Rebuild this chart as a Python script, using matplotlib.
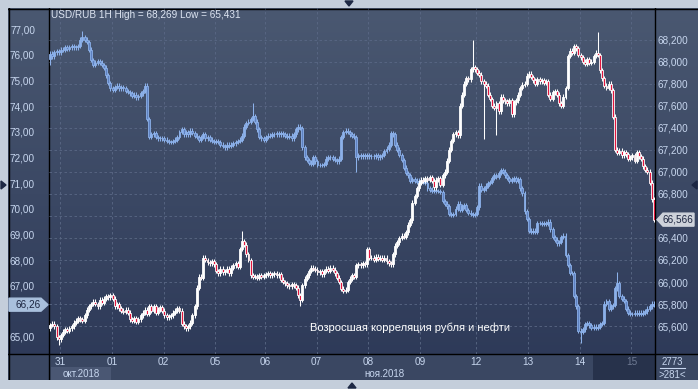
import numpy as np
import matplotlib
matplotlib.use("Agg")
import matplotlib.pyplot as plt
from matplotlib.patches import Rectangle, Polygon
from matplotlib.colors import LinearSegmentedColormap

W, H = 698, 389
plt.rcParams["font.family"] = ["Liberation Sans", "DejaVu Sans"]

# hourly closes, Brent (left scale)
oil_close = [
    76.05, 75.95, 76.1, 76.15, 76.1, 76.2, 76.2, 76.3, 76.25, 76.3, 76.35, 76.3,
    76.3, 76.35, 76.6, 76.7, 76.6, 76.5, 76.2, 75.8, 75.6, 75.7, 75.75, 75.7,
    75.6, 75.5, 75.2, 74.9, 74.7, 74.65, 74.75, 74.8, 74.7, 74.75, 74.7, 74.6,
    74.55, 74.5, 74.4, 74.45, 74.35, 74.4, 74.5, 74.6, 74.8, 73.5, 72.8, 72.9,
    72.95, 72.8, 72.75, 72.75, 72.75, 72.7, 72.65, 72.6, 72.6, 72.65, 72.7, 72.8,
    73.0, 73.1, 72.9, 73.0, 72.9, 73.05, 72.95, 72.85, 72.8, 72.7, 72.8, 72.9,
    72.75, 72.8, 72.7, 72.65, 72.6, 72.65, 72.6, 72.5, 72.45, 72.4, 72.5, 72.45,
    72.5, 72.55, 72.6, 72.65, 72.7, 72.85, 73.2, 73.35, 73.4, 73.5, 73.6, 73.4,
    73.1, 72.8, 72.75, 72.7, 72.8, 72.85, 72.85, 72.9, 72.9, 72.95, 72.9, 72.95,
    72.9, 72.85, 72.8, 72.85, 72.75, 72.9, 73.1, 73.2, 73.15, 72.4, 72.0, 71.9,
    71.8, 71.75, 72.0, 71.85, 71.7, 71.7, 71.7, 71.75, 71.95, 72.0, 72.0, 71.95,
    71.9, 71.85, 71.95, 72.8, 73.0, 73.05, 73.0, 72.9, 72.85, 72.8, 72.0, 72.1,
    72.05, 72.1, 72.05, 72.1, 72.05, 72.05, 72.05, 72.1, 72.0, 72.05, 72.1, 72.25,
    72.35, 72.5, 72.95, 72.9, 72.5, 72.3, 72.1, 71.9, 71.6, 71.4, 71.3, 71.1,
    71.15, 71.1, 71.05, 71.1, 71.05, 71.1, 71.0, 70.8, 70.75, 70.7, 70.75, 70.7,
    70.7, 70.65, 70.3, 70.2, 70.1, 69.8, 69.75, 69.8, 70.0, 70.2, 69.95, 70.1,
    70.15, 69.95, 69.85, 69.8, 69.75, 69.8, 70.05, 70.9, 70.75, 70.8, 70.9, 71.0,
    71.05, 71.2, 71.3, 71.25, 71.4, 71.5, 71.45, 71.3, 71.2, 71.1, 71.15, 71.2,
    71.1, 71.15, 70.8, 70.6, 69.9, 69.6, 69.15, 69.1, 69.15, 69.1, 69.45, 69.45,
    69.4, 69.45, 69.4, 69.5, 69.2, 68.9, 68.8, 68.65, 68.7, 68.9, 68.95, 68.2,
    67.8, 67.5, 67.5, 66.6, 66.2, 65.25, 65.2, 65.3, 65.5, 65.55, 65.45, 65.35,
    65.4, 65.35, 65.4, 65.5, 65.55, 66.3, 66.4, 66.1, 66.2, 66.25, 66.9, 67.1,
    66.6, 66.5, 66.4, 66.1, 65.95, 65.9, 65.9, 65.95, 65.9, 65.95, 65.9, 65.95,
    66.0, 66.1, 66.2, 66.3, 66.26,
]

# hourly closes, USD/RUB (right scale)
usd_close = [
    65.61, 65.62, 65.6, 65.5, 65.48, 65.52, 65.55, 65.57, 65.56, 65.58, 65.6, 65.63,
    65.65, 65.67, 65.66, 65.65, 65.7, 65.75, 65.78, 65.8, 65.82, 65.8, 65.78, 65.84,
    65.81, 65.85, 65.87, 65.86, 65.88, 65.85, 65.78, 65.8, 65.76, 65.74, 65.73, 65.75,
    65.72, 65.66, 65.65, 65.67, 65.64, 65.66, 65.7, 65.72, 65.75, 65.71, 65.78, 65.74,
    65.78, 65.72, 65.75, 65.77, 65.74, 65.7, 65.68, 65.69, 65.7, 65.72, 65.74, 65.76,
    65.74, 65.62, 65.6, 65.58, 65.6, 65.63, 65.7, 65.78, 65.95, 66.05, 66.04, 66.22,
    66.2, 66.18, 66.17, 66.19, 66.16, 66.1, 66.08, 66.12, 66.09, 66.1, 66.12, 66.08,
    66.13, 66.15, 66.17, 66.14, 66.3, 66.37, 66.34, 66.25, 66.2, 66.06, 66.05, 66.05,
    66.04, 66.06, 66.05, 66.06, 66.07, 66.08, 66.06, 66.07, 66.08, 66.06, 66.07, 66.02,
    66.0, 65.99, 65.97, 65.96, 65.98, 65.97, 65.95, 65.88, 65.84, 65.97, 66.03, 66.06,
    66.1, 66.13, 66.12, 66.11, 66.09, 66.1, 66.07, 66.1, 66.12, 66.1, 66.13, 66.11,
    66.08, 66.04, 66.0, 65.94, 65.92, 65.93, 66.0, 66.03, 66.06, 66.05, 66.15, 66.16,
    66.15, 66.17, 66.16, 66.3, 66.22, 66.22, 66.2, 66.23, 66.21, 66.22, 66.2, 66.22,
    66.19, 66.17, 66.16, 66.25, 66.33, 66.36, 66.4, 66.42, 66.41, 66.45, 66.52, 66.56,
    66.72, 66.78, 66.85, 66.9, 66.93, 66.92, 66.94, 66.93, 66.95, 66.92, 66.86, 66.93,
    66.94, 66.88, 66.97, 67.0, 67.1, 67.2, 67.28, 67.34, 67.36, 67.33, 67.6, 67.7,
    67.8, 67.85, 67.84, 67.93, 67.95, 67.93, 67.9, 67.88, 67.82, 67.8, 67.78, 67.7,
    67.66, 67.6, 67.58, 67.62, 67.55, 67.68, 67.65, 67.64, 67.62, 67.65, 67.52, 67.63,
    67.65, 67.7, 67.76, 67.79, 67.8, 67.87, 67.89, 67.86, 67.83, 67.8, 67.84, 67.82,
    67.83, 67.81, 67.82, 67.7, 67.66, 67.72, 67.73, 67.7, 67.62, 67.6, 67.68, 67.76,
    68.05, 68.1, 68.08, 68.14, 68.12, 68.06, 68.04, 68.0, 67.98, 68.02, 67.99, 68.0,
    68.05, 68.08, 68.06, 67.92, 67.85, 67.78, 67.76, 67.8, 67.74, 67.5, 67.2, 67.17,
    67.19, 67.15, 67.18, 67.16, 67.12, 67.13, 67.15, 67.1, 67.18, 67.14, 67.12, 67.05,
    67.02, 67.0, 66.9, 66.75, 66.566,
]

oil_open0 = 75.85
usd_open0 = 65.58

# long wicks
oil_spike_idx = [0, 15, 94, 142, 246, 263]
oil_spike_val = [75.6, 76.92, 74.12, 71.45, 64.75, 67.55]
usd_spike_idx = [4, 89, 116, 196, 201, 207, 254]
usd_spike_val = [65.431, 66.46, 65.78, 68.2, 67.3, 67.33, 68.269]

day_start = [5, 29, 53, 77, 100, 124, 148, 172, 198, 222, 246, 270]
day_labels = ["31", "01", "02", "05", "06", "07", "08", "09", "12", "13", "14", "15"]
month_labels = ["окт.2018", "ноя.2018"]
oil_ticks = [65, 66, 67, 68, 69, 70, 71, 72, 73, 74, 75, 76, 77]
usd_ticks = [65.6, 65.8, 66.0, 66.2, 66.4, 66.6, 66.8, 67.0, 67.2, 67.4, 67.6, 67.8, 68.0, 68.2]

title = "USD/RUB 1H High = 68,269 Low = 65,431"
note = "Возросшая корреляция рубля и нефти"

OIL_LIM = (64.336, 77.83)
USD_LIM = (65.347, 68.486)
TXT = "#c7d6ee"


def ohlc(close, open0, pad, sp_idx, sp_val):
    c = np.array(close)
    o = np.concatenate([[open0], c[:-1]])
    hi = np.maximum(o, c) + pad
    lo = np.minimum(o, c) - pad
    for i, v in zip(sp_idx, sp_val):
        if v > hi[i]:
            hi[i] = v
        elif v < lo[i]:
            lo[i] = v
    return o, hi, lo, c


def candles(ax, close, open0, pad, sp_idx, sp_val, edge, up_face, down_face, z):
    o, hi, lo, c = ohlc(close, open0, pad, sp_idx, sp_val)
    x = np.arange(len(c))
    ax.vlines(x, lo, hi, color=edge, lw=0.75, zorder=z)
    body = np.maximum(np.abs(c - o), 1e-4)
    faces = [up_face if cc >= oo else down_face for oo, cc in zip(o, c)]
    ax.bar(x, body, bottom=np.minimum(o, c), width=0.9, color=faces,
           edgecolor=edge, linewidth=0.6, zorder=z + 0.1)


fig = plt.figure(figsize=(W / 100, H / 100), dpi=100)
fig.patch.set_facecolor("#c4cedb")

# background panel in pixel coordinates
bg = fig.add_axes([8 / W, 1 - 380 / H, 690 / W, 372 / H])
bg.set_zorder(-2)
bg.set_xlim(8, 698)
bg.set_ylim(380, 8)
bg.axis("off")
cmap = LinearSegmentedColormap.from_list("panel", ["#4a5871", "#2c3857"])
bg.imshow(np.linspace(0, 1, 256).reshape(-1, 1), aspect="auto", cmap=cmap,
          extent=[8, 698, 380, 8], interpolation="bilinear")
bg.add_patch(Rectangle((8, 354), 690, 26, color="#3a4762", lw=0))
bg.add_patch(Rectangle((593, 354), 62, 26, color="#27324b", lw=0))
bg.add_patch(Rectangle((51, 367), 60, 13, color="#4a5773", lw=0))
for xs, ys in [([8, 698], [8.5, 8.5]), ([8, 698], [354, 354]),
               ([49, 49], [8, 380]), ([655, 655], [8, 380]), ([8.5, 8.5], [8, 380])]:
    bg.plot(xs, ys, color="black", lw=1.0)
bg.plot([660, 685], [368, 368], color=TXT, lw=0.8)

ax = fig.add_axes([49 / W, 1 - 354 / H, 606 / W, 346 / H])
ax.patch.set_visible(False)
axr = ax.twinx()
n = len(oil_close)
ax.set_xlim(-0.5, n - 0.5)
ax.set_ylim(*OIL_LIM)
axr.set_ylim(*USD_LIM)

# grid: horizontal lines follow the right scale
grid_y = [OIL_LIM[0] + (v - USD_LIM[0]) * (OIL_LIM[1] - OIL_LIM[0]) / (USD_LIM[1] - USD_LIM[0])
          for v in usd_ticks]
day_pos = [d - 0.4 for d in day_start]
ax.hlines(grid_y, -0.5, n - 0.5, color="#5a6885", lw=0.6, linestyle=(0, (3, 3)), zorder=0.5)
ax.vlines(day_pos, *OIL_LIM, color="#5a6885", lw=0.6, linestyle=(0, (3, 3)), zorder=0.5)

candles(ax, oil_close, oil_open0, 0.09, oil_spike_idx, oil_spike_val,
        "#8cb1ea", "#8cb1ea", "#5f82c2", 2)
candles(axr, usd_close, usd_open0, 0.022, usd_spike_idx, usd_spike_val,
        "white", "white", "#e3163e", 2)

for s in list(ax.spines.values()) + list(axr.spines.values()):
    s.set_visible(False)

# labels hidden under the last-value markers
oil_lab = [f"{v:.2f}".replace(".", ",") if abs(v - oil_close[-1]) > 0.45 else "" for v in oil_ticks]
usd_lab = [f"{v:.3f}".replace(".", ",") if abs(v - usd_close[-1]) > 0.12 else "" for v in usd_ticks]
ax.set_yticks(oil_ticks, oil_lab)
axr.set_yticks(usd_ticks, usd_lab)
ax.set_xticks(day_pos, day_labels)
ax.tick_params(axis="y", length=0, pad=10, labelsize=7.2, labelcolor=TXT)
axr.tick_params(axis="y", length=0, pad=2, labelsize=7.2, labelcolor=TXT)
ax.tick_params(axis="x", length=0, pad=2.5, labelsize=7.2, labelcolor=TXT)
ax.get_xticklabels()[-1].set_color("#6f7b94")
for lab in axr.get_yticklabels():
    lab.set_horizontalalignment("left")

fig.text(51, 14.5, title, transform=bg.transData, color="#dde5f2", fontsize=7.2, va="center")
fig.text(410, 328, note, transform=bg.transData, color="white", fontsize=8, ha="center", va="center")
fig.text(81, 374, month_labels[0], transform=bg.transData, color=TXT, fontsize=7, ha="center", va="center")
fig.text(384, 374, month_labels[1], transform=bg.transData, color=TXT, fontsize=7, ha="center", va="center")
fig.text(672, 362, "2773", transform=bg.transData, color=TXT, fontsize=7, ha="center", va="center")
fig.text(672, 374.5, ">" + str(n) + "<", transform=bg.transData, color=TXT, fontsize=7, ha="center", va="center")

# last-value markers
fig.canvas.draw()
py_oil = H - ax.transData.transform((0, oil_close[-1]))[1]
py_usd = H - axr.transData.transform((0, usd_close[-1]))[1]
fig.add_artist(Polygon([(9, py_oil - 6.5), (41, py_oil - 6.5), (48, py_oil),
                        (41, py_oil + 6.5), (9, py_oil + 6.5)],
                       closed=True, color="#a9c0dd", transform=bg.transData, zorder=5))
fig.text(28, py_oil, f"{oil_close[-1]:.2f}".replace(".", ","), transform=bg.transData,
         color="#1c2540", fontsize=7.2, ha="center", va="center", zorder=6)
fig.add_artist(Polygon([(657, py_usd), (663, py_usd - 6.5), (694, py_usd - 6.5),
                        (694, py_usd + 6.5), (663, py_usd + 6.5)],
                       closed=True, color="#cdd2da", transform=bg.transData, zorder=5))
fig.text(678, py_usd, f"{usd_close[-1]:.3f}".replace(".", ","), transform=bg.transData,
         color="#1c2540", fontsize=7.2, ha="center", va="center", zorder=6)

# frame handles
for pts in [[(345, 1), (353, 1), (349, 6)], [(348, 388), (356, 388), (352, 383)],
            [(1, 181), (1, 189), (6, 185)], [(697, 181), (697, 189), (692, 185)]]:
    fig.add_artist(Polygon([(x / W, 1 - y / H) for x, y in pts], closed=True,
                           color="#1d2844", transform=fig.transFigure, zorder=7))

fig.savefig("out.png", dpi=100, facecolor=fig.get_facecolor())
